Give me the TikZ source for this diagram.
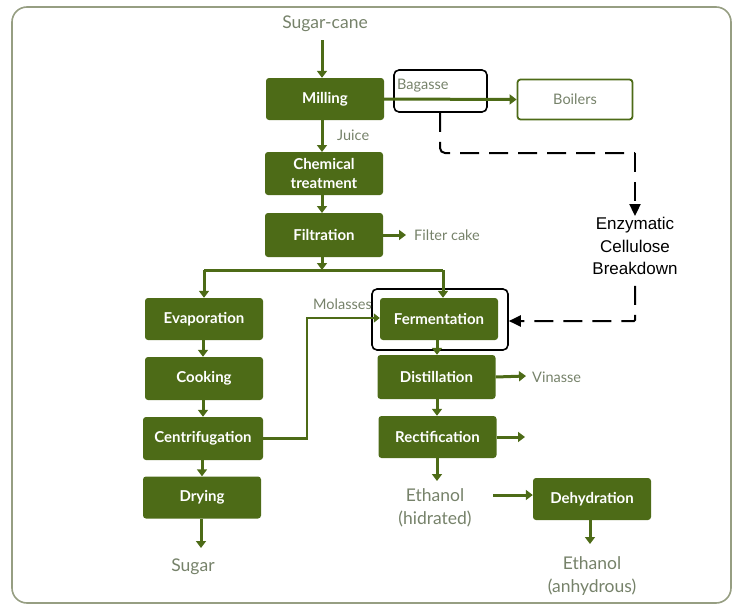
\documentclass[tikz,border=0pt]{standalone}
\usepackage{fontspec}
\setmainfont{Lato}
\newfontfamily\arialfont{Liberation Sans}
\usetikzlibrary{arrows.meta}
\definecolor{procgreen}{RGB}{77,107,23}
\definecolor{labelgray}{RGB}{118,130,106}
\definecolor{framegray}{RGB}{150,158,130}
\begin{document}
\begin{tikzpicture}[x=1pt,y=-1pt,
  procbox/.style={fill=procgreen, rounded corners=3pt, minimum width=118pt,
    minimum height=42pt, inner sep=1pt, text=white, font=\bfseries\fontsize{15}{19}\selectfont,
    align=center},
  outbox/.style={draw=procgreen, line width=1.8pt, fill=white, rounded corners=3pt,
    minimum width=115pt, minimum height=40pt, text=labelgray,
    font=\fontsize{14.5}{16}\selectfont},
  hilite/.style={draw=black, line width=1.6pt, rounded corners=5pt, inner sep=0pt},
  lbl/.style={text=labelgray, font=\fontsize{14.5}{16}\selectfont, inner sep=1pt, align=center},
  biglbl/.style={text=labelgray, font=\fontsize{17.5}{23}\selectfont, inner sep=1pt, align=center},
  flow/.style={draw=procgreen, line width=3pt, -{Triangle[length=7pt,width=10pt]}},
  plain/.style={draw=procgreen, line width=3pt},
  enz/.style={draw=black, line width=2pt, dash pattern=on 19pt off 10pt},
  enzarrow/.style={enz, -{Triangle[length=12pt,width=11pt]}}
]
\useasboundingbox (0,0) rectangle (732,605);
% outer frame
\draw[framegray, line width=1.6pt, rounded corners=15pt] (12,7) rectangle (731,603);

% highlight frames
\node[hilite, minimum width=93pt, minimum height=42pt] (bagframe) at (440.5,91) {};
\node[hilite, minimum width=136pt, minimum height=61pt] (fermframe) at (440,319.5) {};

% process boxes
\node[procbox] (milling) at (325,99) {Milling};
\node[procbox, minimum height=43pt] (chem) at (324,173.5) {Chemical\\treatment};
\node[procbox, minimum height=44pt] (filt) at (324,235) {Filtration};
\node[outbox] (boilers) at (575,99.5) {Boilers};

\node[procbox] (evap) at (204,319) {Evaporation};
\node[procbox, minimum height=43pt] (cook) at (204,378.5) {Cooking};
\node[procbox, minimum width=120pt, minimum height=43pt] (centri) at (203,438.5) {Centrifugation};
\node[procbox] (dry) at (202,497.5) {Drying};

\node[procbox] (ferm) at (439,319) {Fermentation};
\node[procbox, minimum height=44pt] (dist) at (436.5,377) {Distillation};
\node[procbox] (rect) at (437.5,437) {Rectification};
\node[procbox] (dehyd) at (592,499) {Dehydration};

% labels
\node[biglbl] (cane) at (325,24) {Sugar-cane};
\node[lbl, anchor=west] (juice) at (336,135) {Juice};
\node[lbl, anchor=west] (bagasse) at (396,86) {Bagasse};
\node[lbl, anchor=west] (cake) at (413,235) {Filter cake};
\node[lbl, anchor=east] (molasses) at (373,304) {Molasses};
\node[lbl, anchor=west] (vinasse) at (531,377) {Vinasse};
\node[biglbl] (sugar) at (193,567) {Sugar};
\node[biglbl] (ethhyd) at (435,508) {Ethanol\\(hidrated)};
\node[biglbl] (ethanh) at (592,576) {Ethanol\\(anhydrous)};
\node[font=\arialfont\fontsize{17}{22.5}\selectfont, align=center, inner sep=1pt] (enzyme) at (635,246)
  {Enzymatic\\Cellulose\\Breakdown};

% free ends and bends
\coordinate (canestart) at (322,40);
\coordinate (cakeend) at (406,235);
\coordinate (vinend) at (526,376);
\coordinate (rectend) at (525,437);
\coordinate (splitL) at (204,270);
\coordinate (splitR) at (443,270);
\coordinate (molbend) at (307,318);
\coordinate (hydstart) at (493,495);

% main line
\draw[flow] (canestart) -- (canestart |- milling.north);
\draw[flow] (milling.south -| 322,0) -- (322,152);
\draw[flow] (322,195) -- (322,213);
\draw[flow] (milling.east) -- (boilers.west);
\draw[flow] (filt.east) -- (cakeend);

% split after filtration
\draw[flow] (322,257) -- (322,270);
\draw[plain] (splitL) -- (splitR);
\draw[flow] (splitL) -- (evap.north -| splitL);
\draw[flow] (splitR) -- (ferm.north -| splitR);

% sugar column
\draw[flow] (evap.south -| 203,0) -- (cook.north -| 203,0);
\draw[flow] (cook.south -| 203,0) -- (centri.north -| 203,0);
\draw[flow] (centri.south -| 202,0) -- (dry.north -| 202,0);
\draw[flow] (dry.south -| 201,0) -- (201,548);

% molasses to fermentation
\draw[draw=procgreen, line width=2.4pt, -{Triangle[length=6pt,width=9pt]}]
  (centri.east) -- (centri.east -| molbend) -- (molbend) -- (ferm.west |- molbend);

% ethanol column
\draw[flow] (ferm.south -| 437,0) -- (dist.north -| 437,0);
\draw[flow] (dist.south -| 437,0) -- (rect.north -| 437,0);
\draw[flow] (dist.east) -- (vinend);
\draw[flow] (rect.east) -- (rectend);
\draw[flow] (rect.south -| 437,0) -- (437,481);
\draw[flow] (hydstart) -- (dehyd.west |- hydstart);
\draw[flow] (dehyd.south -| 590,0) -- (590,544);

% enzymatic route for bagasse
\draw[enz, rounded corners=5pt] (bagframe.south -| 440,0) -- (440,153) -- (635,153) coordinate (enzcorner);
\draw[enzarrow] (enzcorner) -- (enzyme.north);
\draw[enzarrow, rounded corners=1pt] (enzyme.south) ++(0,10) -- (635,321) -- (fermframe.east |- 0,321);
\end{tikzpicture}
\end{document}
